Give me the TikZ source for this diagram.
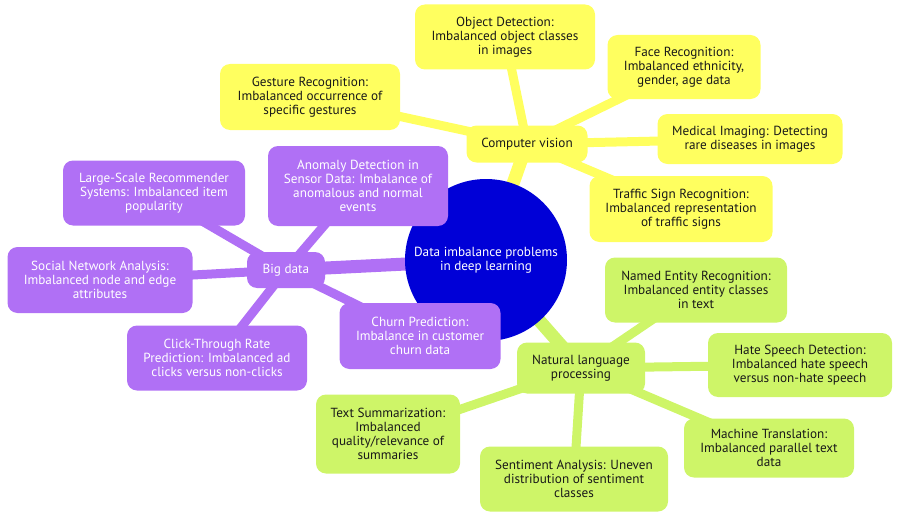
\documentclass[tikz,border=0pt]{standalone}
\usepackage{fontspec}
\setmainfont{PT Sans}
\usepackage{tikz}
\usetikzlibrary{backgrounds}

\definecolor{rootblue}{RGB}{0,0,215}
\definecolor{cvyellow}{RGB}{255,255,95}
\definecolor{bdpurple}{RGB}{176,112,245}
\definecolor{nlpgreen}{RGB}{206,245,104}
\definecolor{darktext}{RGB}{25,25,25}

\begin{document}
\begin{tikzpicture}[x=1pt, y=-1pt,
            root/.style={circle, fill=rootblue, text=white, minimum size=162pt, inner sep=0pt, align=center, font=\fontsize{13.2}{14}\selectfont},
            box/.style={rounded corners=10pt, inner sep=3pt, align=center, font=\fontsize{13.2}{14}\selectfont},
            cv/.style={box, fill=cvyellow, text=darktext},
            bd/.style={box, fill=bdpurple, text=white},
            nlp/.style={box, fill=nlpgreen, text=darktext},
            trunk/.style={line width=13pt},
            edge/.style={line width=9pt}
        ]

        \useasboundingbox (0,0) rectangle (900,519);

        % Mitte
        \node[root] (root) at (486,260) {Data imbalance problems\\in deep learning};

        % Computer vision
        \node[cv, minimum width=121pt, minimum height=37pt] (cv) at (527,144) {Computer vision};
        \node[cv, minimum width=180pt, minimum height=65pt] (objdet) at (505,37) {Object Detection:\\Imbalanced object classes\\in images};
        \node[cv, minimum width=180pt, minimum height=66pt] (gesture) at (310,97) {Gesture Recognition:\\Imbalanced occurrence of\\specific gestures};
        \node[cv, minimum width=153pt, minimum height=64pt] (face) at (684,67) {Face Recognition:\\Imbalanced ethnicity,\\gender, age data};
        \node[cv, minimum width=185pt, minimum height=50pt] (medical) at (750,139) {Medical Imaging: Detecting\\rare diseases in images};
        \node[cv, minimum width=183pt, minimum height=66pt] (traffic) at (681,209) {Traffic Sign Recognition:\\Imbalanced representation\\of traffic signs};

        % Big data
        \node[bd, minimum width=78pt, minimum height=36pt] (bigdata) at (286,270) {Big data};
        \node[bd, minimum width=182pt, minimum height=65pt] (recsys) at (154,193) {Large-Scale Recommender\\Systems: Imbalanced item\\popularity};
        \node[bd, minimum width=180pt, minimum height=80pt] (anomaly) at (358,186) {Anomaly Detection in\\Sensor Data: Imbalance of\\anomalous and normal\\events};
        \node[bd, minimum width=185pt, minimum height=66pt] (social) at (100,280) {Social Network Analysis:\\Imbalanced node and edge\\attributes};
        \node[bd, minimum width=180pt, minimum height=65pt] (ctr) at (217,358) {Click-Through Rate\\Prediction: Imbalanced ad\\clicks versus non-clicks};
        \node[bd, minimum width=161pt, minimum height=66pt] (churn) at (420,336) {Churn Prediction:\\Imbalance in customer\\churn data};

        % Natural language processing
        \node[nlp, minimum width=128pt, minimum height=51pt] (nlp) at (581,368) {Natural language\\processing};
        \node[nlp, minimum width=182pt, minimum height=65pt] (ner) at (696,290) {Named Entity Recognition:\\Imbalanced entity classes\\in text};
        \node[nlp, minimum width=184pt, minimum height=64pt] (hate) at (800,365) {Hate Speech Detection:\\Imbalanced hate speech\\versus non-hate speech};
        \node[nlp, minimum width=170pt, minimum height=59pt] (mt) at (769,448) {Machine Translation:\\Imbalanced parallel text\\data};
        \node[nlp, minimum width=188pt, minimum height=65pt] (sentiment) at (574,479) {Sentiment Analysis: Uneven\\distribution of sentiment\\classes};
        \node[nlp, minimum width=144pt, minimum height=79pt] (summ) at (388,434) {Text Summarization:\\Imbalanced\\quality/relevance of\\summaries};

        % Kanten
        \begin{scope}[on background layer]
            \draw[trunk, cvyellow] (root.center) -- (cv.center);
            \draw[trunk, bdpurple] (root.center) -- (bigdata.center);
            \draw[trunk, nlpgreen] (root.center) -- (nlp.center);
            \foreach \leaf in {objdet, gesture, face, medical, traffic}
                \draw[edge, cvyellow] (cv.center) -- (\leaf.center);
            \foreach \leaf in {recsys, anomaly, social, ctr, churn}
                \draw[edge, bdpurple] (bigdata.center) -- (\leaf.center);
            \foreach \leaf in {ner, hate, mt, sentiment, summ}
                \draw[edge, nlpgreen] (nlp.center) -- (\leaf.center);
        \end{scope}

    \end{tikzpicture}
\end{document}
